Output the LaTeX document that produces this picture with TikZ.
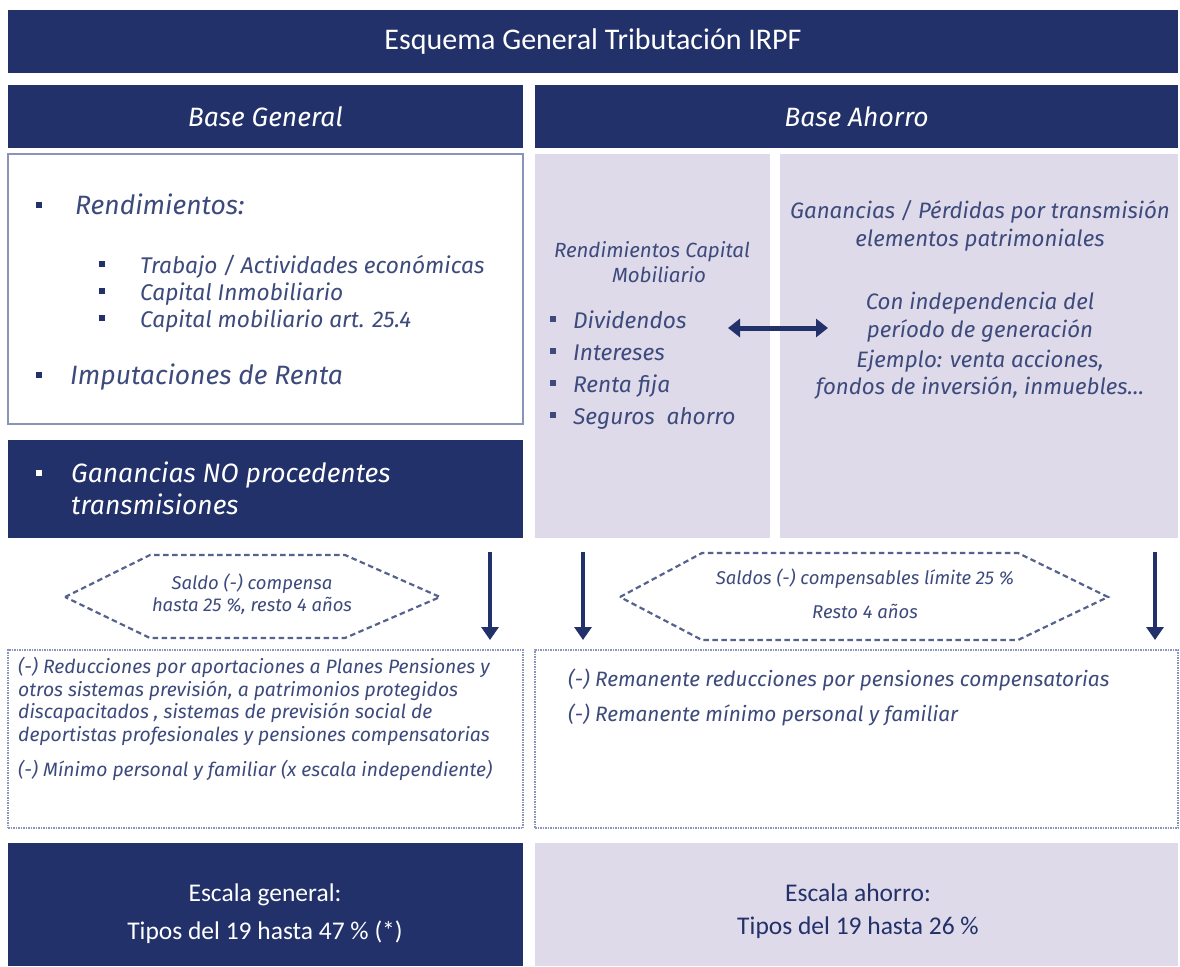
\documentclass[tikz,border=0pt]{standalone}
\usepackage{fontspec}
\setmainfont{Carlito}
\newfontfamily\itf{Fira Sans}
\usetikzlibrary{arrows.meta}
\definecolor{navy}{HTML}{22316A}
\definecolor{lav}{HTML}{DEDAEA}
\definecolor{txt}{HTML}{3D4A7C}
\definecolor{bord}{HTML}{8A93B8}
\definecolor{dashc}{HTML}{56628E}
\tikzset{
  box/.style={anchor=north west, inner sep=0pt, outer sep=0pt},
  darkbox/.style={box, fill=navy, text=white},
  lavbox/.style={box, fill=lav},
  linebox/.style={box, draw=bord, line width=1.2pt, fill=white},
  dotbox/.style={box, draw=bord, line width=1.2pt, dash pattern=on 1.5pt off 1pt, fill=white},
  it/.style={font=\itf\itshape, text=txt, inner sep=0pt},
  sq/.style={fill=#1, minimum size=6.5pt, inner sep=0pt},
  hexa/.style={draw=dashc, line width=2.2pt, dash pattern=on 5.5pt off 3.5pt},
  downarrow/.style={draw=navy, line width=3.2pt, -{Triangle[width=17pt,length=13pt]}},
  dblarrow/.style={draw=navy, line width=5pt, {Triangle[width=18pt,length=12pt]}-{Triangle[width=18pt,length=12pt]}}
}
\begin{document}
\begin{tikzpicture}[x=1pt,y=-1pt]
\useasboundingbox (0,0) rectangle (1180,966);
% title and headers
\node[darkbox, minimum width=1170pt, minimum height=63pt] (title) at (8,10) {};
\node[font=\fontsize{30}{34}\selectfont, text=white] at (title.center) {Esquema General Tributación IRPF};
\node[darkbox, minimum width=515pt, minimum height=63pt] (hg) at (8,85) {};
\node[font=\itf\itshape\fontsize{26.5}{30}\selectfont, text=white] at (hg.center) {Base General};
\node[darkbox, minimum width=643pt, minimum height=63pt] (ha) at (535,85) {};
\node[font=\itf\itshape\fontsize{26.5}{30}\selectfont, text=white] at (ha.center) {Base Ahorro};
% left white box
\node[linebox, minimum width=515pt, minimum height=270pt] (lbox) at (8,154) {};
\node[sq=navy] (b1) at (39,205) {};
\node[it, font=\itf\itshape\fontsize{26.5}{30}\selectfont, anchor=base west] (t1) at (75,214) {Rendimientos:};
\node[sq=navy] (b2) at (102,264) {};
\node[it, font=\itf\itshape\fontsize{22.7}{26}\selectfont, anchor=base west] (t2) at (140,273) {Trabajo / Actividades económicas};
\node[sq=navy] (b3) at (102,291) {};
\node[it, font=\itf\itshape\fontsize{22.7}{26}\selectfont, anchor=base west] (t3) at (140,300) {Capital Inmobiliario};
\node[sq=navy] (b4) at (102,318) {};
\node[it, font=\itf\itshape\fontsize{22.7}{26}\selectfont, anchor=base west] (t4) at (140,327) {Capital mobiliario art. 25.4};
\node[sq=navy] (b5) at (39,375) {};
\node[it, font=\itf\itshape\fontsize{26.5}{30}\selectfont, anchor=base west] (t5) at (70,384) {Imputaciones de Renta};
% dark box
\node[darkbox, minimum width=515pt, minimum height=98pt] (dbox) at (8,440) {};
\node[sq=white] (b6) at (39,473) {};
\node[font=\itf\itshape\fontsize{26.5}{32}\selectfont, text=white, anchor=north west, align=left, inner sep=0pt] (t6) at (71,462) {Ganancias NO procedentes\\transmisiones};
% lavender boxes
\node[lavbox, minimum width=235pt, minimum height=384pt] (rcm) at (535,154) {};
\node[it, font=\itf\itshape\fontsize{20.5}{25}\selectfont, align=center] (rcmt) at (652,262) {Rendimientos Capital\\\hspace*{14pt}Mobiliario};
\node[sq=txt] (c1) at (553,319) {};
\node[it, font=\itf\itshape\fontsize{22.7}{26}\selectfont, anchor=base west] (d1) at (573,328) {Dividendos};
\node[sq=txt] (c2) at (553,351) {};
\node[it, font=\itf\itshape\fontsize{22.7}{26}\selectfont, anchor=base west] (d2) at (573,360) {Intereses};
\node[sq=txt] (c3) at (553,383) {};
\node[it, font=\itf\itshape\fontsize{22.7}{26}\selectfont, anchor=base west] (d3) at (573,392) {Renta fija};
\node[sq=txt] (c4) at (553,415) {};
\node[it, font=\itf\itshape\fontsize{22.7}{26}\selectfont, anchor=base west] (d4) at (573,424) {Seguros\ \ ahorro};
\node[lavbox, minimum width=398pt, minimum height=384pt] (gan) at (780,154) {};
\node[it, font=\itf\itshape\fontsize{22.3}{28}\selectfont, align=center] (g1) at (980,226) {Ganancias / Pérdidas por transmisión\\elementos patrimoniales};
\node[it, font=\itf\itshape\fontsize{22.3}{28}\selectfont, align=center] (g2) at (980,317) {Con independencia del\\período de generación};
\node[it, font=\itf\itshape\fontsize{22.3}{27}\selectfont, align=center] (g3) at (980,375) {Ejemplo: venta acciones,\\fondos de inversión, inmuebles…};
\coordinate (da1) at (728,328);
\coordinate (da2) at (828,328);
\draw[dblarrow] (da1) -- (da2);
% hexagons
\draw[hexa] (65,597) -- (150,555) -- (345,555) -- (440,597) -- (345,638) -- (150,638) -- cycle;
\node[it, font=\itf\itshape\fontsize{18.5}{22}\selectfont, align=center] (h1) at (252,594) {Saldo (-) compensa\\hasta 25 \%, resto 4 años};
\draw[hexa] (620,597) -- (702,553) -- (1018,553) -- (1108,597) -- (1018,640) -- (702,640) -- cycle;
\node[it, font=\itf\itshape\fontsize{18.5}{34}\selectfont, align=center] (h2) at (865,594) {Saldos (-) compensables límite 25 \%\\Resto 4 años};
% down arrows
\coordinate (a1s) at (490,552);
\coordinate (a1e) at (490,640);
\coordinate (a2s) at (583,552);
\coordinate (a2e) at (583,640);
\coordinate (a3s) at (1155,552);
\coordinate (a3e) at (1155,640);
\draw[downarrow] (a1s) -- (a1e);
\draw[downarrow] (a2s) -- (a2e);
\draw[downarrow] (a3s) -- (a3e);
% lower boxes
\node[dotbox, minimum width=515pt, minimum height=178pt] (lowL) at (8,650) {};
\node[it, font=\itf\itshape\fontsize{19.3}{22.7}\selectfont, anchor=north west, align=left] (lt1) at (18,657) {(-) Reducciones por aportaciones a Planes Pensiones y\\otros sistemas previsión, a patrimonios protegidos\\discapacitados , sistemas de previsión social de\\deportistas profesionales y pensiones compensatorias};
\node[it, font=\itf\itshape\fontsize{19.3}{22.7}\selectfont, anchor=north west] (lt2) at (18,760) {(-) Mínimo personal y familiar (x escala independiente)};
\node[dotbox, minimum width=643pt, minimum height=178pt] (lowR) at (535,650) {};
\node[it, font=\itf\itshape\fontsize{20.8}{24}\selectfont, anchor=north west] (rt1) at (568,669) {(-) Remanente reducciones por pensiones compensatorias};
\node[it, font=\itf\itshape\fontsize{20.8}{24}\selectfont, anchor=north west] (rt2) at (568,704) {(-) Remanente mínimo personal y familiar};
% bottom boxes
\node[darkbox, minimum width=515pt, minimum height=123pt] (escG) at (8,843) {};
\node[font=\fontsize{25.5}{38}\selectfont, text=white, align=center] (eg) at (265,914) {Escala general:\\Tipos del 19 hasta 47 \% (*)};
\node[lavbox, minimum width=643pt, minimum height=123pt] (escA) at (535,843) {};
\node[font=\fontsize{25.5}{33}\selectfont, text=navy, align=center] (ea) at (858,911) {Escala ahorro:\\Tipos del 19 hasta 26 \%};
\end{tikzpicture}
\end{document}
